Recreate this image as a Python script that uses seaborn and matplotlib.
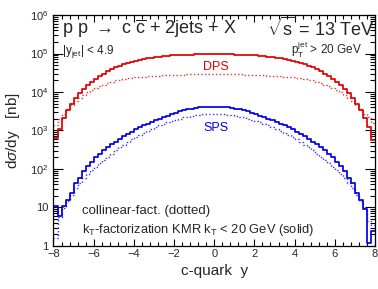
import numpy as np
import pandas as pd
import seaborn as sns
import matplotlib.pyplot as plt

# c-quark rapidity bins (0.2 wide, -8 .. 8)
y_edges = np.linspace(-8, 8, 81)
y_centers = 0.5 * (y_edges[:-1] + y_edges[1:])

# dsigma/dy [nb], bin by bin from y=-7.9 to y=7.9
dps_kt = [630, 1120, 2090, 3310, 5010, 7080, 9550, 12000, 14800, 17800,
          21400, 25700, 30200, 34700, 38900, 43600, 47900, 52500, 56900, 61000,
          64600, 68400, 71600, 75000, 77600, 80400, 83200, 85100, 87100, 89100,
          90200, 91200, 92300, 93300, 93800, 94400, 94800, 95100, 95300, 95500,
          95500, 95300, 95100, 94800, 94400, 93800, 93300, 92300, 91200, 90200,
          89100, 87100, 85100, 83200, 80400, 77600, 75000, 71600, 68400, 64600,
          61000, 56900, 52500, 47900, 43600, 38900, 34700, 30200, 25700, 21400,
          17800, 14800, 12000, 9550, 7080, 5010, 3310, 2090, 1230, 560]

dps_coll = [1410, 2000, 2630, 3550, 4570, 5750, 6920, 8320, 9770, 11200,
            12600, 14100, 15500, 17000, 18600, 20000, 20900, 21900, 22600, 23400,
            24000, 24500, 25100, 25700, 26000, 26300, 26600, 26900, 27200, 27500,
            27900, 28200, 28200, 28500, 28500, 28800, 28800, 28800, 28800, 28800,
            28800, 28800, 28800, 28800, 28800, 28500, 28500, 28200, 28200, 27900,
            27500, 27200, 26900, 26600, 26300, 26000, 25700, 25100, 24500, 24000,
            23400, 22600, 21900, 20900, 20000, 18600, 17000, 15500, 14100, 12600,
            11200, 9770, 8320, 6920, 5750, 4570, 3550, 2630, 2240, 1580]

sps_kt = [11, 6.0, 11, 15.5, 24, 42, 60, 87, 117, 155,
          200, 251, 302, 363, 437, 513, 603, 708, 813, 933,
          1070, 1200, 1350, 1510, 1660, 1860, 2040, 2240, 2450, 2690,
          2880, 3160, 3390, 3550, 3720, 3890, 3980, 4070, 4170, 4170,
          4170, 4170, 4070, 3980, 3890, 3720, 3550, 3390, 3160, 2880,
          2690, 2450, 2240, 2040, 1860, 1660, 1510, 1350, 1200, 1070,
          933, 813, 708, 603, 513, 437, 363, 302, 251, 200,
          155, 117, 87, 60, 42, 24, 15.5, 9, 1.2, 2.5]

sps_coll = [1.6, 5.6, 9.5, 15, 21, 32, 44, 58, 74, 93,
            115, 141, 174, 209, 251, 302, 363, 427, 501, 589,
            676, 776, 871, 977, 1100, 1230, 1350, 1480, 1620, 1780,
            1910, 2040, 2190, 2290, 2400, 2510, 2570, 2630, 2690, 2690,
            2690, 2690, 2630, 2570, 2510, 2400, 2290, 2190, 2040, 1910,
            1780, 1620, 1480, 1350, 1230, 1100, 977, 871, 776, 676,
            589, 501, 427, 363, 302, 251, 209, 174, 141, 115,
            93, 74, 58, 44, 32, 21, 15, 9.5, 4.5, 3.5]

ytick_vals = [1, 10, 1e2, 1e3, 1e4, 1e5, 1e6]
ytick_labels = ['1', '10', '$10^{2}$', '$10^{3}$', '$10^{4}$', '$10^{5}$', '$10^{6}$']
xtick_vals = [-8, -6, -4, -2, 0, 2, 4, 6, 8]

sns.set_style('ticks')
plt.rcParams['font.family'] = ['Liberation Sans', 'DejaVu Sans']
plt.rcParams['mathtext.fontset'] = 'custom'
plt.rcParams['mathtext.rm'] = 'Liberation Sans'
plt.rcParams['mathtext.it'] = 'Liberation Sans:italic'
plt.rcParams['mathtext.sf'] = 'Liberation Sans'

RED = '#e00000'
BLUE = '#0000e6'

fig = plt.figure(figsize=(3.78, 2.89), dpi=100)
ax = fig.add_axes([0.1415, 0.149, 0.8505, 0.799])

series = [
    (dps_coll, RED, ':', 1.0, 0.8),
    (sps_coll, BLUE, ':', 1.0, 0.8),
    (dps_kt, RED, '-', 1.25, 1.0),
    (sps_kt, BLUE, '-', 1.25, 1.0),
]
for vals, col, ls, lw, alpha in series:
    df = pd.DataFrame({'y': y_centers, 'xsec': vals})
    sns.histplot(data=df, x='y', weights='xsec', bins=list(y_edges),
                 element='step', fill=False, color=col, linestyle=ls,
                 linewidth=lw, alpha=alpha, ax=ax)

ax.set_yscale('log')
ax.set_xlim(-8, 8)
ax.set_ylim(1, 1e6)
ax.set_yticks(ytick_vals)
ax.set_yticklabels(ytick_labels)
ax.set_xticks(xtick_vals)
ax.set_xticklabels([str(v) if v >= 0 else '\u2212' + str(-v) for v in xtick_vals])
ax.xaxis.set_minor_locator(plt.MultipleLocator(0.4))
ax.yaxis.set_minor_locator(plt.LogLocator(base=10, subs=np.arange(2, 10)))
ax.yaxis.set_minor_formatter(plt.NullFormatter())

ax.tick_params(which='both', direction='in', top=True, right=True,
               labelsize=8, width=0.8, color='black')
ax.tick_params(axis='y', which='major', length=7)
ax.tick_params(axis='y', which='minor', length=3.6)
ax.tick_params(axis='x', which='major', length=5, pad=2)
ax.tick_params(axis='x', which='minor', length=2.6)
for s in ax.spines.values():
    s.set_linewidth(0.9)
    s.set_color('black')

ax.set_xlabel('c-quark  y', fontsize=11, labelpad=4)
ax.set_ylabel(r'd$\sigma$/dy   [nb]', fontsize=11, labelpad=6)

ax.text(0.028, 0.942, r'p p $\rightarrow$ c $\overline{\mathrm{c}}$ + 2jets + X',
        transform=ax.transAxes, fontsize=13, va='center', ha='left')
ax.text(0.999, 0.942, r'$\sqrt{\mathrm{s}}$ = 13 TeV',
        transform=ax.transAxes, fontsize=13, va='center', ha='right')
ax.text(0.028, 0.84, r'|y$_{\mathrm{jet}}$| < 4.9',
        transform=ax.transAxes, fontsize=8.5, va='center', ha='left')
ax.text(0.96, 0.848, r'p$_{\mathrm{T}}^{\mathrm{jet}}$ > 20 GeV',
        transform=ax.transAxes, fontsize=8.5, va='center', ha='right')
ax.text(0.505, 0.775, 'DPS', color=RED, transform=ax.transAxes,
        fontsize=9, va='center', ha='center')
ax.text(0.505, 0.51, 'SPS', color=BLUE, transform=ax.transAxes,
        fontsize=9, va='center', ha='center')
ax.text(0.09, 0.152, 'collinear-fact. (dotted)', transform=ax.transAxes,
        fontsize=9.5, va='center', ha='left')
ax.text(0.09, 0.07, r'k$_{\mathrm{T}}$-factorization KMR k$_{\mathrm{T}}$ < 20 GeV (solid)',
        transform=ax.transAxes, fontsize=9.3, va='center', ha='left')

fig.savefig('out.png', dpi=100)
